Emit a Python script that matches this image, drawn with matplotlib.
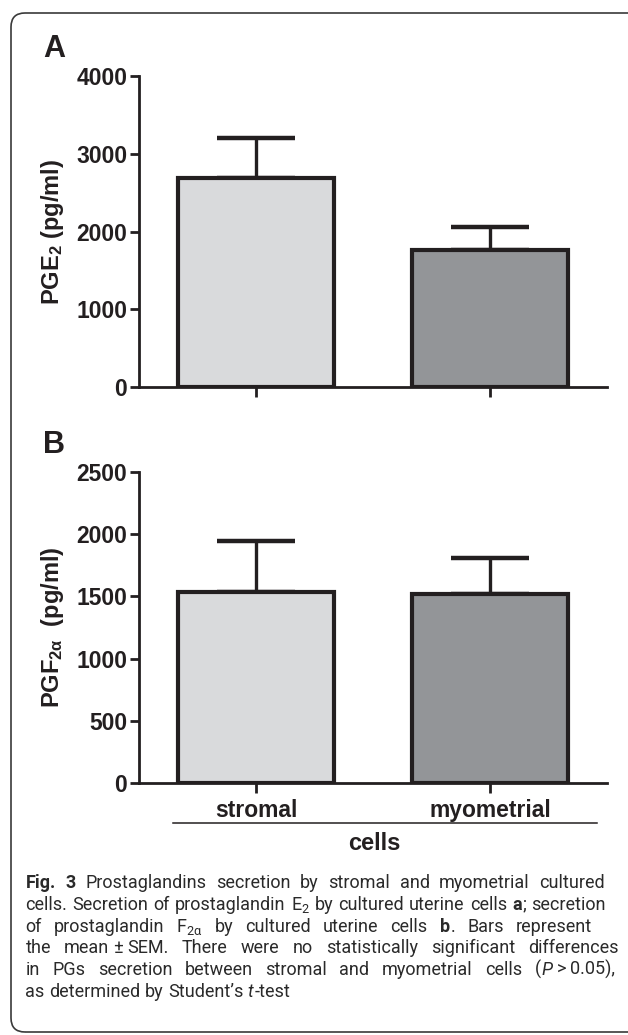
import re
import numpy as np
import matplotlib
matplotlib.use("Agg")
import matplotlib.pyplot as plt
from matplotlib.patches import FancyBboxPatch
from matplotlib.lines import Line2D
from matplotlib.transforms import IdentityTransform

# values
groups = ["stromal", "myometrial"]
pge2_mean = [2685, 1762]
pge2_sem = [523, 300]
pgf2a_mean = [1532, 1521]
pgf2a_sem = [414, 289]
pge2_ticks = [0, 1000, 2000, 3000, 4000]
pgf2a_ticks = [0, 500, 1000, 1500, 2000, 2500]
bar_colors = ["#d9dadc", "#939598"]

caption_lines = [
    "**Fig.** **3** Prostaglandins secretion by stromal and myometrial cultured",
    "cells. Secretion of prostaglandin E$_2$ by cultured uterine cells **a**; secretion",
    "of prostaglandin F$_{2α}$ by cultured uterine cells **b**. Bars represent",
    "the mean~±~SEM. There were no statistically significant differences",
    "in PGs secretion between stromal and myometrial cells (`P`~>~0.05),",
    "as determined by Student’s `t`-test",
]
line_ends = [605, 606, 592, 619, 615, None]

ink = "#231f20"
W, H = 628, 1035

plt.rcParams["font.family"] = ["Liberation Sans", "DejaVu Sans"]
plt.rcParams["font.weight"] = "bold"
plt.rcParams["axes.labelweight"] = "bold"
plt.rcParams["mathtext.default"] = "regular"

fig = plt.figure(figsize=(W / 100, H / 100), dpi=100)

# rounded frame, right side runs off the page
frame = FancyBboxPatch((11, 3), 640, 1019, boxstyle="round,pad=0,rounding_size=14",
                       transform=IdentityTransform(), facecolor="none",
                       edgecolor="#3a3a3a", linewidth=1.2)
fig.add_artist(frame)


def px_axes(left, top, right, bottom):
    return fig.add_axes([left / W, 1 - bottom / H, (right - left) / W, (bottom - top) / H])


def panel(ax, means, sems, ticks, ylabel, show_names):
    x = np.arange(len(groups))
    ax.errorbar(x, means, yerr=[np.zeros(len(sems)), sems], fmt="none", ecolor=ink,
                elinewidth=2.4, capsize=28, capthick=3.2, zorder=1)
    ax.bar(x, means, width=0.665, color=bar_colors, edgecolor=ink, linewidth=3, zorder=2)
    ax.set_xlim(-0.5, 1.5)
    ax.set_ylim(0, ticks[-1])
    ax.set_yticks(ticks)
    ax.set_xticks(x)
    ax.set_xticklabels(groups)
    for side in ["top", "right"]:
        ax.spines[side].set_visible(False)
    for side in ["left", "bottom"]:
        ax.spines[side].set_linewidth(2)
        ax.spines[side].set_color(ink)
    ax.tick_params(axis="y", length=6.5, width=2, pad=2, labelsize=16.5, color=ink, labelcolor=ink)
    ax.tick_params(axis="x", length=7.5, width=2, pad=4, labelsize=16.5, color=ink, labelcolor=ink,
                   labelbottom=show_names)
    ax.set_ylabel(ylabel, fontsize=17, fontweight="bold", va="center", color=ink)
    ax.yaxis.set_label_coords(-0.185, 0.5)
    ax.patch.set_visible(False)


axA = px_axes(139, 76, 607, 387)
panel(axA, pge2_mean, pge2_sem, pge2_ticks, "PGE$_2$ (pg/ml)", False)
axB = px_axes(139, 472, 607, 783)
panel(axB, pgf2a_mean, pgf2a_sem, pgf2a_ticks, "PGF$_{2α}$  (pg/ml)", True)

fig.text(43 / W, 1 - 57 / H, "A", fontsize=22, fontweight="bold", color=ink, va="baseline")
fig.text(43 / W, 1 - 453 / H, "B", fontsize=22, fontweight="bold", color=ink, va="baseline")

fig.add_artist(Line2D([173 / W, 597 / W], [1 - 823 / H, 1 - 823 / H], color=ink, linewidth=1.1))
fig.text(374 / W, 1 - 843 / H, "cells", fontsize=17, fontweight="bold", color=ink,
         ha="center", va="center")

# caption, justified word by word
renderer = fig.canvas.get_renderer()
styles = {"n": dict(fontweight="normal"), "b": dict(fontweight="bold"),
          "i": dict(fontweight="normal", fontstyle="italic")}
x0 = 25.5


def make(txt, style, y, size):
    t = fig.text(0, y, txt, va="baseline", ha="left", family=["Roboto", "DejaVu Sans"],
                 fontsize=size, color="#2a2a2a", **styles[style])
    return t, t.get_window_extent(renderer).width


def space_width(size):
    p1, w1 = make("n n", "n", 0, size)
    p2, w2 = make("nn", "n", 0, size)
    p1.remove()
    p2.remove()
    return w1 - w2


def build_line(line, y, size, thin):
    words = []
    for word in line.split(" "):
        parts = []
        for tok in re.split(r"(\*\*[^*]+\*\*|`[^`]+`|~)", word):
            if not tok:
                continue
            if tok == "~":
                parts.append((None, thin))
            elif tok.startswith("**"):
                parts.append(make(tok[2:-2], "b", y, size))
            elif tok.startswith("`"):
                parts.append(make(tok[1:-1], "i", y, size))
            else:
                parts.append(make(tok, "n", y, size))
        words.append(parts)
    widths = [sum(w for _, w in parts) + 0.8 * (len(parts) - 1) for parts in words]
    return words, widths


# largest size at which every justified line keeps a normal word gap
cap_size = 14.5
while cap_size > 9:
    sp = space_width(cap_size)
    ok = True
    for line, end in zip(caption_lines, line_ends):
        words, widths = build_line(line, 0, cap_size, sp * 0.55)
        for parts in words:
            for t, _ in parts:
                if t is not None:
                    t.remove()
        if end is not None and sum(widths) + 0.95 * sp * (len(words) - 1) > end - x0:
            ok = False
    if ok:
        break
    cap_size -= 0.25

space = space_width(cap_size)
for i, line in enumerate(caption_lines):
    y = 1 - (888 + i * 21.8) / H
    words, widths = build_line(line, y, cap_size, space * 0.55)
    if line_ends[i] is not None:
        gap = (line_ends[i] - x0 - sum(widths)) / (len(words) - 1)
    else:
        gap = space
    x = x0
    for parts, ww in zip(words, widths):
        xx = x
        for t, w in parts:
            if t is not None:
                t.set_x(xx / W)
            xx += w + 0.8
        x += ww + gap

fig.savefig("out.png", dpi=100)
